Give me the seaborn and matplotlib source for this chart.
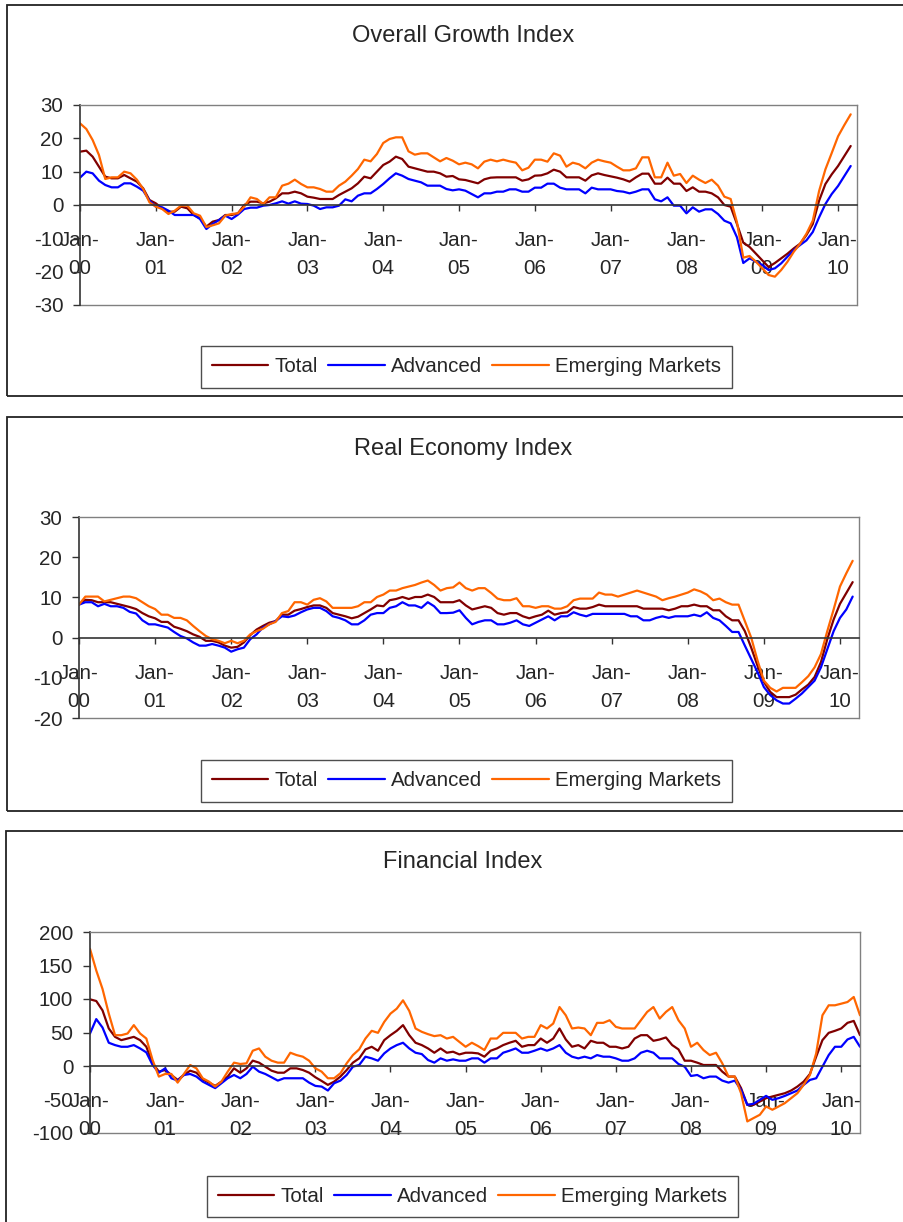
import numpy as np
import pandas as pd
import matplotlib
matplotlib.use("Agg")
import matplotlib.pyplot as plt
from matplotlib.patches import Rectangle
import seaborn as sns

# ---- data (monthly, Jan-00 onwards) ----
series_names = ["Total", "Advanced", "Emerging Markets"]
series_colors = ["#800000", "#0000FF", "#FF6600"]
year_labels = ["Jan-\n%02d" % y for y in range(0, 11)]

growth_total = [16, 16.3, 14.5, 11.5, 8.5, 8, 8, 9, 8, 7,
                5, 1.5, 0.5, -1, -2, -2, -0.5, -1, -3, -4,
                -6.5, -5, -4.5, -3, -3, -2.5, 0, 1, 1, 0.5,
                1, 2, 3.5, 3.5, 4, 3.5, 2.5, 2.2, 1.8, 1.8,
                1.8, 3, 4, 5, 6.5, 8.5, 8, 10, 12, 13,
                14.5, 13.8, 11.5, 11, 10.5, 10, 10, 9.5, 8.5, 8.7,
                7.7, 7.5, 7, 6.5, 7.7, 8.2, 8.3, 8.3, 8.3, 8.3,
                7.3, 7.7, 8.8, 8.9, 9.5, 10.6, 10, 8.3, 8.3, 8.3,
                7.3, 8.9, 9.5, 9, 8.6, 8.2, 7.7, 7, 8.3, 9.4,
                9.4, 6.4, 6.4, 8.2, 6.4, 6.4, 4.2, 5.3, 4, 4,
                3.5, 2.3, 0, -0.5, -5.7, -11.3, -12.6, -14.6, -16.6, -18.6,
                -17.4, -16, -14.6, -13, -11.6, -9, -5.7, 1.3, 6.3, 9.2,
                11.7, 14.7, 17.7]
growth_adv = [8.2, 10, 9.5, 7.3, 6, 5.3, 5.3, 6.5, 6.5, 5.5,
              4.3, 1.3, -0.5, -0.7, -1.7, -3, -3, -3, -3, -4.2,
              -7.2, -5.7, -4.5, -3.2, -4.2, -2.9, -1.2, -0.8, -0.8, -0.2,
              0, 0.5, 1.1, 0.4, 1.1, 0.4, 0.3, -0.2, -1.2, -0.7,
              -0.7, -0.2, 1.7, 1.1, 2.8, 3.5, 3.5, 4.8, 6.3, 8,
              9.5, 8.8, 7.8, 7.3, 6.8, 5.8, 5.8, 5.8, 4.8, 4.4,
              4.7, 4.3, 3.3, 2.3, 3.5, 3.5, 4, 4, 4.7, 4.7,
              4, 4, 5.2, 5.2, 6.4, 6.4, 5.2, 4.7, 4.7, 4.7,
              3.5, 5.2, 4.7, 4.7, 4.7, 4.2, 4, 3.5, 4, 4.7,
              4.7, 1.7, 1.1, 2.3, -0.2, -0.2, -2.5, -0.7, -2, -1.3,
              -1.3, -2.7, -4.7, -5.5, -9.7, -17.4, -16, -17, -18, -19.5,
              -19, -17.5, -15.5, -13.5, -12, -10.6, -8.1, -3.7, 0.3, 3.3,
              5.7, 8.7, 11.7]
growth_em = [24.5, 22.8, 19.5, 15, 7.8, 8.3, 8.3, 10, 9.5, 7.6,
             4.8, 0.8, -0.5, -1.2, -2.7, -1.7, -0.2, -0.2, -2.5, -3.2,
             -6.6, -6.1, -5.5, -3.2, -2.7, -2.5, -0.5, 2.3, 1.8, 0.3,
             2.3, 2.3, 5.8, 6.4, 7.6, 6.3, 5.3, 5.3, 4.8, 4,
             4, 5.8, 7, 8.8, 10.8, 13.6, 13.1, 15.3, 18.6, 19.8,
             20.3, 20.3, 16.1, 15.1, 15.5, 15.5, 14.3, 13.1, 14.1, 13.3,
             12.2, 12.7, 12.2, 11, 13, 13.6, 13.1, 13.6, 13.1, 12.7,
             10.4, 11.2, 13.6, 13.6, 13, 15.5, 14.8, 11.5, 12.7, 12.2,
             11, 12.7, 13.6, 13.1, 12.7, 11.5, 10.4, 10.4, 11, 14.3,
             14.3, 8.3, 8.3, 12.7, 8.8, 9.3, 6.6, 8.8, 7.6, 6.6,
             7.6, 5.8, 2.5, 1.8, -5.2, -15.8, -15.3, -17, -19, -21,
             -21.5, -19.5, -17, -14, -11.6, -8.6, -4.7, 4.2, 10.7, 15.6,
             20.6, 24, 27.2]

real_total = [8.2, 9.4, 9.3, 8.8, 8.8, 8.8, 8.4, 8, 7.6, 7.1,
              6.1, 5.3, 4.8, 3.9, 3.9, 2.7, 2.2, 1.6, 0.8, 0.2,
              -0.8, -0.8, -1.2, -2, -2.5, -2.3, -1.2, 0.6, 2, 2.9,
              3.7, 4.1, 5.7, 5.7, 6.7, 7.1, 7.6, 8, 8, 7.4,
              6.1, 5.7, 5.3, 4.8, 5.2, 6.1, 7, 8, 7.8, 9.3,
              9.6, 10.1, 9.6, 10.1, 10.1, 10.7, 10.1, 8.8, 8.8, 8.8,
              9.3, 8, 7, 7.4, 7.8, 7.4, 6.1, 5.7, 6.1, 6.1,
              5.3, 4.8, 5.3, 5.7, 6.7, 5.7, 6.1, 6.3, 7.6, 7.2,
              7.2, 7.6, 8.2, 7.8, 7.8, 7.8, 7.8, 7.8, 7.8, 7.2,
              7.2, 7.2, 7.2, 6.8, 7.2, 7.8, 7.8, 8.2, 7.8, 7.8,
              6.8, 6.8, 5.3, 4.3, 4.3, 1.6, -2.5, -7, -11, -13.5,
              -14.8, -14.8, -14.8, -14.2, -12.9, -11.7, -9.8, -6.1, -0.4, 4.5,
              8.4, 11.1, 13.8]
real_adv = [8.2, 8.8, 8.8, 7.8, 8.4, 7.8, 7.8, 7.4, 6.4, 6,
            4.3, 3.3, 3.3, 2.9, 2.5, 1.4, 0.4, -0.2, -1.2, -2,
            -2, -1.6, -2, -2.5, -3.5, -2.9, -2.5, -0.4, 0.8, 2.5,
            3.3, 4.1, 5.3, 5.1, 5.5, 6.3, 7, 7.4, 7.4, 6.6,
            5.3, 4.9, 4.3, 3.3, 3.3, 4.3, 5.7, 6.1, 6.1, 7.4,
            7.8, 8.8, 8, 8, 7.4, 8.8, 7.8, 6.1, 6.1, 6.2,
            6.8, 4.9, 3.3, 3.9, 4.3, 4.3, 3.3, 3.3, 3.7, 4.3,
            3.3, 2.9, 3.7, 4.5, 5.3, 4.3, 5.3, 5.3, 6.3, 5.7,
            5.3, 5.9, 5.9, 5.9, 5.9, 5.9, 5.9, 5.3, 5.3, 4.3,
            4.3, 4.9, 5.3, 4.9, 5.3, 5.3, 5.3, 5.7, 5.3, 6.3,
            4.9, 4.3, 2.9, 1.4, 1.4, -2, -5.3, -8.6, -12.3, -14.3,
            -15.6, -16.4, -16.4, -15.2, -13.9, -12.3, -10.7, -7.4, -2.9, 1.6,
            4.9, 7, 10.2]
real_em = [8.2, 10.2, 10.2, 10.2, 9, 9.4, 9.8, 10.2, 10.2, 9.8,
           8.8, 7.8, 7.1, 5.7, 5.7, 4.9, 4.9, 4.3, 2.9, 1.6,
           0.4, -0.4, -0.8, -1.4, -0.8, -1.4, -0.8, 0.8, 1.6, 2.2,
           3.3, 3.9, 6.1, 6.6, 8.8, 8.8, 8.2, 9.4, 9.8, 9,
           7.4, 7.4, 7.4, 7.4, 7.8, 8.8, 8.8, 10.1, 10.7, 11.7,
           11.7, 12.3, 12.7, 13.1, 13.7, 14.2, 13.1, 11.7, 12.3, 12.5,
           13.7, 12.3, 11.7, 12.3, 12.3, 11.1, 9.7, 9.3, 9.3, 9.8,
           7.8, 7.8, 7.4, 7.8, 7.8, 7.2, 7.2, 7.8, 9.3, 9.7,
           9.7, 9.7, 11.2, 10.7, 10.7, 10.2, 10.7, 11.2, 11.7, 11.2,
           10.7, 10.2, 9.3, 9.8, 10.2, 10.7, 11.2, 12, 11.5, 10.7,
           9.3, 9.7, 8.8, 8.2, 8.2, 4.1, 0, -5.7, -10.7, -12.5,
           -13.4, -12.5, -12.5, -12.5, -11.1, -9.6, -7.4, -4.1, 1.6, 7,
           12.7, 16, 19.1]

fin_total = [99.5, 97, 83, 56, 43.5, 38.6, 41, 43.5, 38.6, 28.7,
             4, -8.4, -6, -13.4, -20.8, -13.4, -7, -10, -19.8, -24.8,
             -29.7, -23.3, -15.8, -3.5, -10, -3.5, 8, 5, -1, -7,
             -10, -10, -3.5, -3.5, -6, -10, -16.8, -22.3, -28.2, -23.3,
             -15.8, -6, 5, 11.4, 24.8, 28.7, 22.8, 38.6, 46, 52.5,
             61, 46, 34.7, 31.2, 26.2, 19.8, 26.2, 19.8, 21.3, 17.3,
             19.8, 19.8, 18.8, 13.9, 22.8, 26.2, 31.2, 34.7, 37.6, 28.7,
             31.2, 31.2, 41, 34.7, 41, 56, 39.6, 28.7, 31.2, 26.2,
             37.6, 34.7, 34.7, 28.7, 28.7, 26.2, 28.7, 41, 46, 46,
             37.6, 39.6, 42.6, 31.2, 24.8, 7.9, 7.9, 5, 1.5, 1.5,
             1.5, -8.4, -15.8, -15.8, -33, -58, -58, -53, -48, -45.5,
             -43, -40.6, -36.6, -30.7, -23.3, -11.9, 13.9, 38.6, 49.5, 52.5,
             56, 64.4, 67.3, 46]
fin_adv = [48.5, 70, 57.4, 34.7, 31.2, 28.7, 28.7, 31.2, 26.2, 20.3,
           1.5, -10, -3.5, -18.3, -21.8, -13.4, -11.9, -15.8, -23.3, -28.2,
           -33, -25.7, -18.3, -13.4, -18.3, -11.9, -1, -8.4, -11.9, -16.8,
           -21.8, -18.3, -18.3, -18.3, -18.3, -24.8, -29.7, -30.7, -36.6, -25.7,
           -21.8, -13.4, -1, 1.5, 13.9, 11.4, 7.9, 18.8, 26.2, 31.2,
           34.7, 26.2, 19.8, 17.8, 8.9, 5, 11.4, 7.9, 9.9, 7.9,
           7.9, 11.4, 11.4, 5, 11.4, 11.4, 19.8, 22.8, 26.2, 19.8,
           19.8, 22.8, 26.2, 22.8, 26.2, 31.2, 19.8, 13.9, 11.4, 13.9,
           11.4, 16.3, 13.9, 13.9, 11.4, 7.9, 7.9, 11.4, 19.8, 22.8,
           19.8, 11.4, 11.4, 11.4, 3, -1, -14.9, -13.4, -18.3, -15.8,
           -15.8, -21.8, -24.8, -21.8, -35.6, -58, -56.4, -50.5, -44.6, -50.5,
           -48, -44.6, -40.6, -36.6, -28.2, -20.8, -18.3, -1, 16.3, 28.7,
           28.7, 39.6, 43.5, 28.7]
fin_em = [174.8, 142.6, 115, 78.2, 46, 46, 48.5, 61, 48.5, 41,
          8.9, -15.8, -11.9, -11.9, -24.8, -11.9, 1.5, -3.5, -18.3, -23.3,
          -30.7, -23.3, -8.4, 5, 3, 4, 22.8, 26.2, 13.9, 7.9,
          5, 5, 19.8, 16.3, 13.9, 7.9, -3.5, -8.4, -18.3, -18.3,
          -10.9, 4, 16.3, 24.8, 41, 52.5, 49.5, 65.8, 78.2, 85.6,
          98, 82.2, 56, 51, 47.5, 44.6, 46, 41, 43.5, 36,
          28.7, 34.7, 29.7, 23.8, 41, 41, 49.5, 49.5, 49.5, 41,
          43.5, 43.5, 61, 56, 63.4, 88, 75.7, 56, 57.4, 56,
          46, 64.4, 64.4, 68.3, 58.4, 56, 56, 56, 68.3, 80.7,
          88, 70.8, 80.7, 88, 68.3, 56, 28.7, 34.7, 23.8, 16.3,
          19.8, 4, -15.8, -15.8, -40.6, -82.7, -77.7, -72.8, -60.4, -65.3,
          -60.4, -55.4, -48, -40.6, -28.2, -13.4, 18.8, 75.7, 90.6, 90.6,
          93, 95.5, 103, 75.7]

W, H = 904, 1222
sns.set_style("white")
plt.rcParams["font.family"] = ["Liberation Sans", "DejaVu Sans"]
plt.rcParams["axes.unicode_minus"] = False

fig = plt.figure(figsize=(W / 100, H / 100), dpi=100)

GRAY = "#808080"
AXIS = "#333333"
FS = 14.8
XPAD = 14


def px_rect(l, t, r, b):
    # figure-fraction rect from pixel edges
    return [l / W, 1 - b / H, (r - l) / W, (b - t) / H]


def draw_panel(box, axrect, title, title_base, vals, ylim, ystep, leg_center):
    # outer frame of the panel
    l, t, r, b = box
    fig.add_artist(Rectangle((l / W, 1 - b / H), (r - l) / W, (b - t) / H,
                             transform=fig.transFigure, fill=False,
                             edgecolor="#222222", lw=1.3, clip_on=False))
    fig.text(463 / W, 1 - title_base / H, title, ha="center", va="baseline",
             fontsize=17)

    ax = fig.add_axes(px_rect(*axrect))
    n = len(vals[0])
    df = pd.concat([pd.DataFrame({"month": np.arange(n), "value": v, "series": s})
                    for s, v in zip(series_names, vals)], ignore_index=True)
    sns.lineplot(data=df, x="month", y="value", hue="series",
                 hue_order=series_names, palette=series_colors,
                 linewidth=1.6, ax=ax, legend=True)

    ax.set_xlim(0, 123)
    ax.set_ylim(*ylim)
    ax.set_xlabel("")
    ax.set_ylabel("")
    ax.set_yticks(np.arange(ylim[0], ylim[1] + 1, ystep))
    ax.set_xticks(np.arange(0, 121, 12))
    ax.set_xticklabels(year_labels)

    for side in ["top", "right"]:
        ax.spines[side].set_color(GRAY)
        ax.spines[side].set_linewidth(1.0)
    ax.spines["left"].set_color(AXIS)
    ax.spines["left"].set_linewidth(1.2)
    ax.spines["bottom"].set_position(("data", 0))
    ax.spines["bottom"].set_color(AXIS)
    ax.spines["bottom"].set_linewidth(1.2)
    ax.plot([0, 1], [0, 0], transform=ax.transAxes, color=GRAY, lw=1.0,
            clip_on=False, zorder=0.5)

    ax.tick_params(axis="y", direction="out", length=5, width=1, color=AXIS,
                   pad=7, labelsize=FS, left=True)
    ax.tick_params(axis="x", direction="out", length=4.5, width=1, color=AXIS,
                   pad=XPAD, labelsize=FS, bottom=True)

    handles, labels = ax.get_legend_handles_labels()
    ax.legend(handles, labels, loc="center",
              bbox_to_anchor=(leg_center[0] / W, 1 - leg_center[1] / H),
              bbox_transform=fig.transFigure, ncol=3, frameon=True,
              fancybox=False, edgecolor="#222222", fontsize=FS,
              handlelength=2.75, handletextpad=0.3, columnspacing=0.5,
              borderpad=0.55, borderaxespad=0)
    ax.get_legend().get_frame().set_linewidth(1.0)
    return ax


axes = [
    draw_panel((7, 5, 920, 396), (80, 105, 857, 305), "Overall Growth Index", 42,
               [growth_total, growth_adv, growth_em], (-30, 30), 10, (466.5, 367)),
    draw_panel((7, 417, 920, 811), (79, 517, 859, 718), "Real Economy Index", 455,
               [real_total, real_adv, real_em], (-20, 30), 10, (466.5, 781)),
    draw_panel((6, 831, 920, 1240), (90, 932, 860, 1133), "Financial Index", 868,
               [fin_total, fin_adv, fin_em], (-100, 200), 50, (472.5, 1196.5)),
]

# fit the two-line month labels: ~47 px tall, top ~26 px under the zero line
fig.canvas.draw()
rend = fig.canvas.get_renderer()
for ax in axes:
    labs = ax.get_xticklabels()

    def label_height(ls):
        for tx in labs:
            tx.set_linespacing(ls)
        return labs[1].get_window_extent(rend).height

    h1, h2 = label_height(1.0), label_height(2.0)
    ls = 1.0 + (47 - h1) / max(h2 - h1, 1e-6)
    for tx in labs:
        tx.set_linespacing(ls)
    top = H - labs[1].get_window_extent(rend).y1
    zero = H - ax.transData.transform((0, 0))[1]
    ax.tick_params(axis="x", pad=XPAD + (zero + 26 - top) * 0.72)

fig.savefig("out.png", dpi=100)
